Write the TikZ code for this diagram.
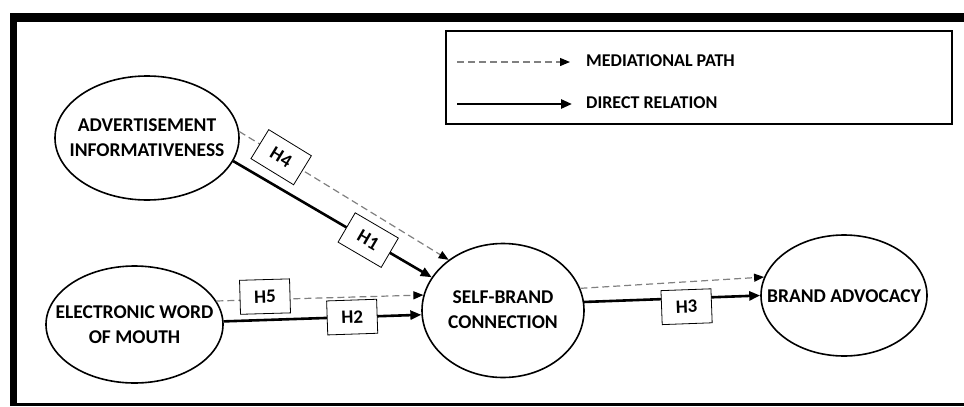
\documentclass[tikz,border=0pt]{standalone}
\usepackage{fontspec}
\setmainfont{Carlito}
\usetikzlibrary{arrows.meta,shapes.geometric}
\begin{document}
\begin{tikzpicture}[x=1pt,y=-1pt,
  every node/.style={font=\fontsize{19.5}{25}\selectfont\bfseries},
  construct/.style={draw, line width=1.6pt, ellipse, inner sep=0pt},
  ctext/.style={align=center, inner sep=0pt},
  legtext/.style={anchor=west, inner sep=0pt, font=\fontsize{18}{22}\selectfont\bfseries},
  direct/.style={line width=2.6pt, -{Triangle[length=11pt,width=9pt]}},
  mediate/.style={line width=1.2pt, draw=black!50, dash pattern=on 7pt off 4pt, -{Triangle[length=10pt,width=8pt,color=black]}},
  hyp/.style={draw=black, solid, fill=white, line width=0.8pt, minimum width=50pt, minimum height=34pt, inner sep=0pt, font=\fontsize{19}{22}\selectfont\bfseries},
]
\useasboundingbox (0,0) rectangle (964,407);
% frame
\fill (10,13) rectangle (964,21.5);
\fill (10,13) rectangle (17.3,405.7);
\fill (10,403) rectangle (964,405.7);
% legend
\node[draw, line width=1.5pt, minimum width=506pt, minimum height=93pt, inner sep=0pt, anchor=north west] (legend) at (445,30) {};
\coordinate (m1) at (457,62);
\coordinate (m2) at (570,62);
\coordinate (d1) at (457,104);
\coordinate (d2) at (572,104);
\draw[mediate] (m1) -- (m2);
\draw[direct] (d1) -- (d2);
\node[legtext] (mtext) at (586,61) {MEDIATIONAL PATH};
\node[legtext] (dtext) at (586,103) {DIRECT RELATION};
% constructs
\node[construct, minimum width=184pt, minimum height=124pt] (ai) at (147,138) {};
\node[ctext] (ait) at (147,137.5) {ADVERTISEMENT\\INFORMATIVENESS};
\node[construct, minimum width=177pt, minimum height=117pt] (ew) at (134.5,324.5) {};
\node[ctext] (ewt) at (134.5,324.5) {ELECTRONIC WORD\\OF MOUTH};
\node[construct, minimum width=162pt, minimum height=134pt] (sbc) at (503,310.5) {};
\node[ctext] (sbct) at (503,309.5) {SELF-BRAND\\CONNECTION};
\node[construct, minimum width=166pt, minimum height=121pt] (ba) at (844,295.5) {};
\node[ctext] (bat) at (844,296) {BRAND ADVOCACY};
% paths
\draw[mediate] (ai.4) -- (sbc.137) node[hyp, sloped, pos=0.2] (h4) {H4};
\draw[direct] (ai.-15) -- (sbc.155) node[hyp, sloped, pos=0.68] (h1) {H1};
\draw[mediate] (ew.16.5) -- (sbc.169) node[hyp, sloped, pos=0.235, yshift=3pt] (h5) {H5};
\draw[direct] (ew.2.2) -- (sbc.-177) node[hyp, sloped, pos=0.65] (h2) {H2};
\draw[mediate] (sbc.16.8) -- (ba.167.5);
\draw[direct] (sbc.6) -- (ba.180) node[hyp, sloped, pos=0.58, yshift=-8.5pt] (h3) {H3};
\end{tikzpicture}
\end{document}
